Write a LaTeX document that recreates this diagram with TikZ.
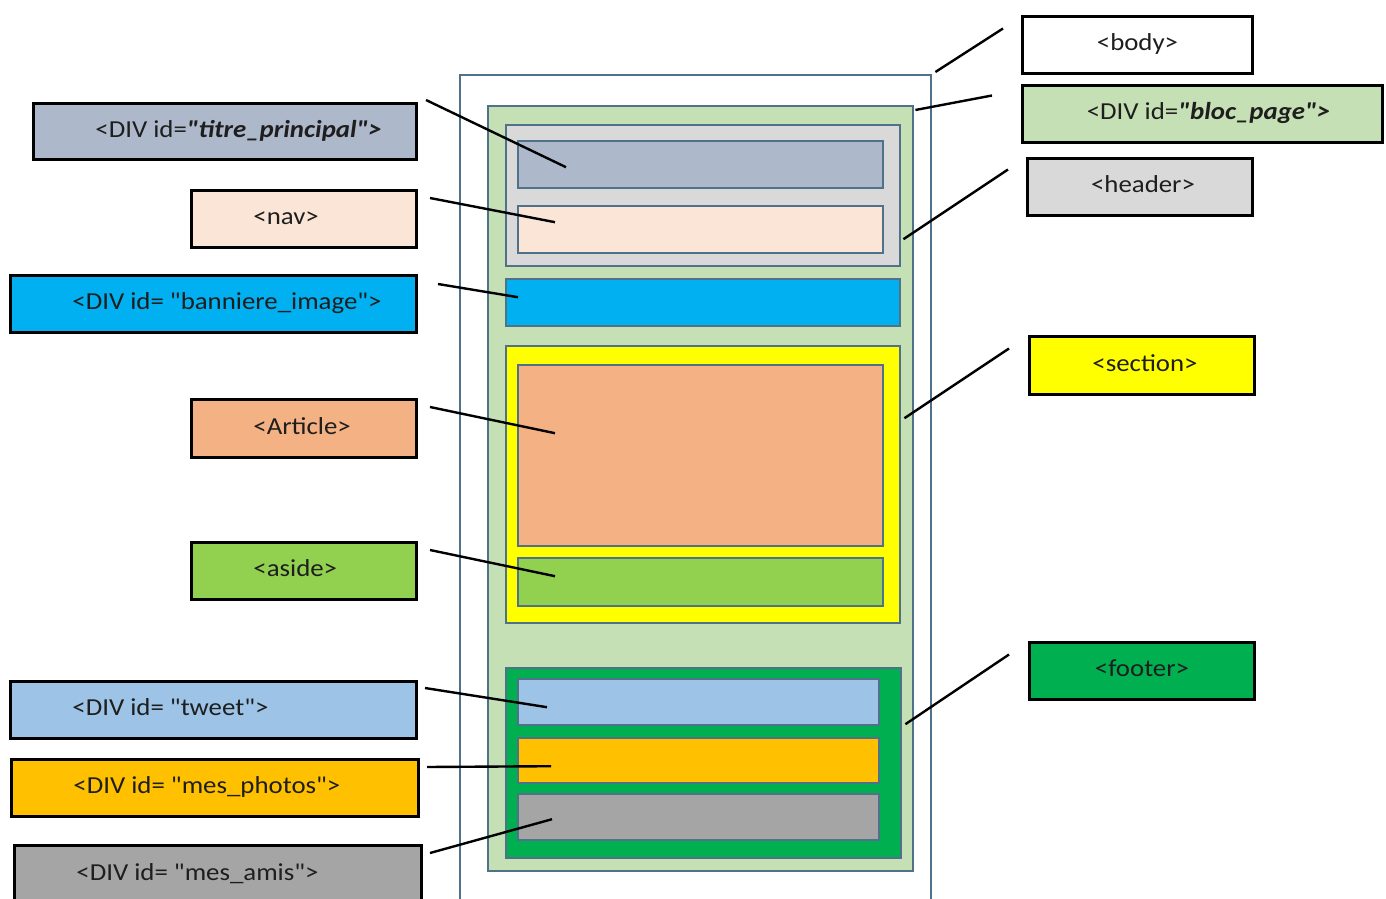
\documentclass[tikz,border=0pt]{standalone}
\usepackage{fontspec}
\setmainfont{Carlito}[FakeStretch=1.1, Ligatures=TeXOff]
\newcommand{\dq}{\char34\relax}
\definecolor{frame}{HTML}{4F7189}
\definecolor{txtc}{HTML}{1E1E1E}
\definecolor{cbloc}{HTML}{C5E0B4}
\definecolor{chead}{HTML}{D9D9D9}
\definecolor{ctitre}{HTML}{ADB9CA}
\definecolor{cnav}{HTML}{FBE5D6}
\definecolor{cban}{HTML}{00B0F0}
\definecolor{csec}{HTML}{FFFF00}
\definecolor{cart}{HTML}{F4B183}
\definecolor{caside}{HTML}{92D050}
\definecolor{cfoot}{HTML}{00B050}
\definecolor{ctweet}{HTML}{9DC3E6}
\definecolor{cphotos}{HTML}{FFC000}
\definecolor{camis}{HTML}{A5A5A5}
\begin{document}
\begin{tikzpicture}[x=0.5pt,y=-0.5pt,
  inbox/.style={draw=frame, line width=1.2pt, anchor=north west, inner sep=0pt},
  labbox/.style={draw=black, line width=1.5pt, anchor=north west, inner sep=0pt},
  txt/.style={font=\fontsize{12.2}{14}\selectfont, text=txtc, inner sep=0pt},
  conn/.style={draw=black, line width=1.2pt}]
\useasboundingbox (0,0) rectangle (1386,899);
\fill[white] (0,0) rectangle (1386,899);
% nested layout
\node[inbox, fill=white, minimum width=235.5pt, minimum height=415.5pt] (body) at (459,74) {};
\node[inbox, fill=cbloc, minimum width=212.5pt, minimum height=382.5pt] (bloc) at (487,105) {};
\node[inbox, fill=chead, minimum width=197pt, minimum height=70.5pt] (header) at (505,124) {};
\node[inbox, fill=ctitre, minimum width=182.5pt, minimum height=23.5pt] (titre) at (517,140) {};
\node[inbox, fill=cnav, minimum width=182.5pt, minimum height=23.5pt] (nav) at (517,205) {};
\node[inbox, fill=cban, minimum width=197pt, minimum height=23.5pt] (ban) at (505,278) {};
\node[inbox, fill=csec, minimum width=197pt, minimum height=138.5pt] (section) at (505,345) {};
\node[inbox, fill=cart, minimum width=182.5pt, minimum height=90.5pt] (article) at (517,364) {};
\node[inbox, fill=caside, minimum width=182.5pt, minimum height=24pt] (aside) at (517,557) {};
\node[inbox, fill=cfoot, minimum width=197.5pt, minimum height=95pt] (footer) at (505,667) {};
\node[inbox, fill=ctweet, minimum width=180.5pt, minimum height=23pt] (tweet) at (517,678) {};
\node[inbox, fill=cphotos, minimum width=180.5pt, minimum height=22.5pt] (photos) at (517,737) {};
\node[inbox, fill=camis, minimum width=180.5pt, minimum height=23pt] (amis) at (517,793) {};
% left labels
\node[labbox, fill=ctitre, minimum width=191.5pt, minimum height=28pt] (Ltitre) at (32,102) {};
\node[labbox, fill=cnav, minimum width=112.5pt, minimum height=28.5pt] (Lnav) at (190,189) {};
\node[labbox, fill=cban, minimum width=203pt, minimum height=28.5pt] (Lban) at (9,274) {};
\node[labbox, fill=cart, minimum width=112.5pt, minimum height=29pt] (Lart) at (190,398) {};
\node[labbox, fill=caside, minimum width=112.5pt, minimum height=28.5pt] (Laside) at (190,541) {};
\node[labbox, fill=ctweet, minimum width=203pt, minimum height=28.5pt] (Ltweet) at (9,680) {};
\node[labbox, fill=cphotos, minimum width=203.5pt, minimum height=28.5pt] (Lphotos) at (10,758) {};
\node[labbox, fill=camis, minimum width=203.5pt, minimum height=29pt] (Lamis) at (13,844) {};
\node[txt, anchor=base west] (Ttitre) at ([xshift=31.5pt,yshift=-2.75pt]Ltitre.west) {<DIV id=\textbf{\textit{\dq titre\_principal\dq>}}};
\node[txt, anchor=base west] (Tnav) at ([xshift=31.5pt,yshift=-2.75pt]Lnav.west) {<nav>};
\node[txt, anchor=base west] (Tban) at ([xshift=31.5pt,yshift=-2.75pt]Lban.west) {<DIV id= \dq banniere\_image\dq>};
\node[txt, anchor=base west] (Tart) at ([xshift=31.5pt,yshift=-2.75pt]Lart.west) {<Article>};
\node[txt, anchor=base west] (Taside) at ([xshift=31.5pt,yshift=-2.75pt]Laside.west) {<aside>};
\node[txt, anchor=base west] (Ttweet) at ([xshift=31.5pt,yshift=-2.75pt]Ltweet.west) {<DIV id= \dq tweet\dq>};
\node[txt, anchor=base west] (Tphotos) at ([xshift=31.5pt,yshift=-2.75pt]Lphotos.west) {<DIV id= \dq mes\_photos\dq>};
\node[txt, anchor=base west] (Tamis) at ([xshift=31.5pt,yshift=-2.75pt]Lamis.west) {<DIV id= \dq mes\_amis\dq>};
% right labels
\node[labbox, fill=white, minimum width=115pt, minimum height=28.5pt] (Lbody) at (1021,15) {};
\node[labbox, fill=cbloc, minimum width=180pt, minimum height=28.5pt] (Lbloc) at (1021,84) {};
\node[labbox, fill=chead, minimum width=112.5pt, minimum height=28.5pt] (Lheader) at (1026,157) {};
\node[labbox, fill=csec, minimum width=112.5pt, minimum height=29pt] (Lsection) at (1028,335) {};
\node[labbox, fill=cfoot, minimum width=112.5pt, minimum height=28.5pt] (Lfooter) at (1028,641) {};
\node[txt, anchor=base] (Tbody) at ([yshift=-2.75pt]Lbody.center) {<body>};
\node[txt, anchor=base] (Tbloc) at ([xshift=3pt,yshift=-2.75pt]Lbloc.center) {<DIV id=\textbf{\textit{\dq bloc\_page\dq>}}};
\node[txt, anchor=base] (Theader) at ([xshift=1.5pt,yshift=-2.75pt]Lheader.center) {<header>};
\node[txt, anchor=base] (Tsection) at ([xshift=1.5pt,yshift=-2.75pt]Lsection.center) {<section>};
\node[txt, anchor=base] (Tfooter) at ([yshift=-2.75pt]Lfooter.center) {<footer>};
% connectors left
\draw[conn] ([xshift=4pt,yshift=1pt]Ltitre.north east) -- ([xshift=24.5pt,yshift=-1.25pt]titre.west);
\draw[conn] ([xshift=6pt,yshift=-4.5pt]Lnav.north east) -- ([xshift=19pt,yshift=3.75pt]nav.west);
\draw[conn] ([xshift=10pt,yshift=-5pt]Lban.north east) -- ([xshift=6.5pt,yshift=2.75pt]ban.west);
\draw[conn] ([xshift=6pt,yshift=-4.5pt]Lart.north east) -- ([xshift=19pt,yshift=11.25pt]article.west);
\draw[conn] ([xshift=6pt,yshift=-4.5pt]Laside.north east) -- ([xshift=19pt,yshift=3pt]aside.west);
\draw[conn] ([xshift=3.5pt,yshift=-4pt]Ltweet.north east) -- ([xshift=15pt,yshift=-2.5pt]tweet.west);
\draw[conn] ([xshift=3.5pt,yshift=-4.5pt]Lphotos.north east) -- ([xshift=17pt,yshift=-2.75pt]photos.west);
\draw[conn] ([xshift=3.5pt,yshift=-4.5pt]Lamis.north east) -- ([xshift=17.5pt,yshift=-1pt]amis.west);
% connectors right
\draw[conn] ([xshift=-9pt,yshift=8.25pt]Lbody.west) -- ([xshift=1.5pt,yshift=1pt]body.north east);
\draw[conn] ([xshift=-14.5pt,yshift=9.25pt]Lbloc.west) -- ([xshift=0.5pt,yshift=-2.5pt]bloc.north east);
\draw[conn] ([xshift=-9pt,yshift=8.75pt]Lheader.west) -- ([xshift=1pt,yshift=-21.75pt]header.east);
\draw[conn] ([xshift=-9.5pt,yshift=8.5pt]Lsection.west) -- ([xshift=1.5pt,yshift=33.25pt]section.east);
\draw[conn] ([xshift=-9.5pt,yshift=8.25pt]Lfooter.west) -- ([xshift=1.5pt,yshift=19.5pt]footer.east);
\end{tikzpicture}
\end{document}
